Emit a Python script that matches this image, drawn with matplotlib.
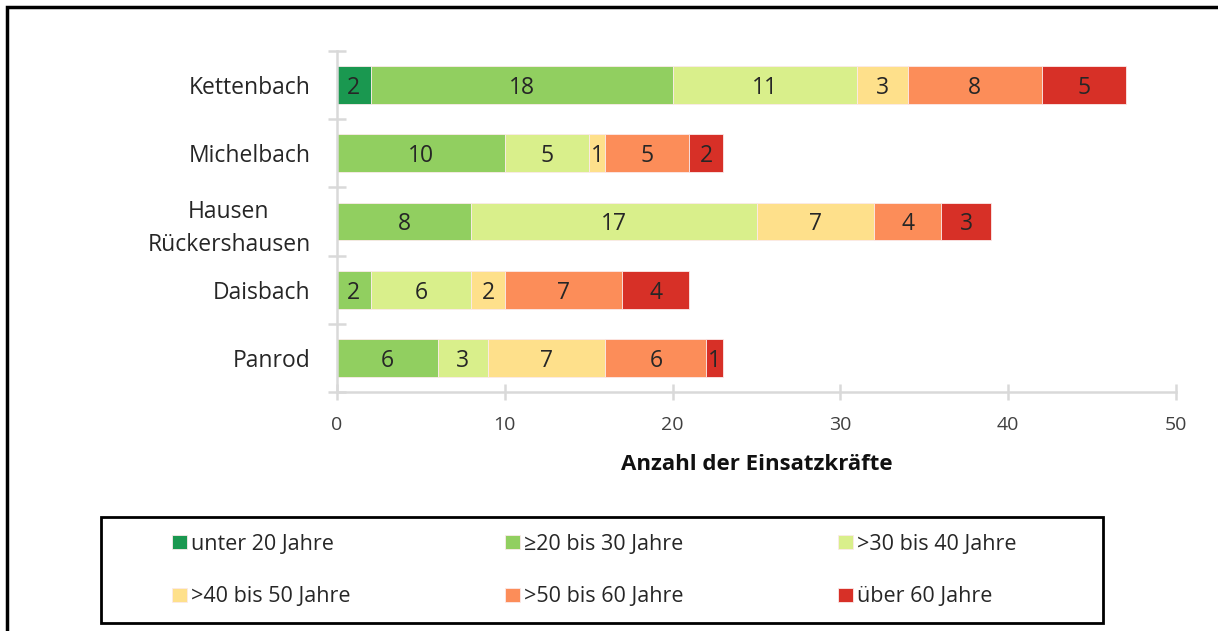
import matplotlib.pyplot as plt
from matplotlib.patches import Rectangle
import numpy as np

orte = ["Kettenbach", "Michelbach", "Hausen\nRückershausen", "Daisbach", "Panrod"]
gruppen = ["unter 20 Jahre", "≥20 bis 30 Jahre", ">30 bis 40 Jahre",
           ">40 bis 50 Jahre", ">50 bis 60 Jahre", "über 60 Jahre"]
farben = ["#1a9850", "#91cf60", "#d9ef8b", "#fee08b", "#fc8d59", "#d73027"]

unter20 = [2, 0, 0, 0, 0]
bis30 = [18, 10, 8, 2, 6]
bis40 = [11, 5, 17, 6, 3]
bis50 = [3, 1, 7, 2, 7]
bis60 = [8, 5, 4, 7, 6]
ueber60 = [5, 2, 3, 4, 1]

werte = [unter20, bis30, bis40, bis50, bis60, ueber60]

plt.rcParams['font.family'] = ['Open Sans', 'DejaVu Sans']

W, H = 1218, 631
fig = plt.figure(figsize=(W / 100, H / 100), dpi=100)
ax = fig.add_axes([337 / W, 1 - 392 / H, (1176 - 337) / W, (392 - 51) / H])

y = np.arange(len(orte))
links = np.zeros(len(orte))
balken = []
for name, vals, col in zip(gruppen, werte, farben):
    vals = np.array(vals)
    b = ax.barh(y, vals, left=links, height=0.556, color=col,
                edgecolor='#fbeaea', linewidth=0.6, label=name)
    balken.append(b)
    for yi, v, l in zip(y, vals, links):
        if v > 0:
            ax.text(l + v / 2, yi, str(v), ha='center', va='center_baseline',
                    fontsize=16.5, color='#262626')
    links += vals

ax.set_ylim(len(orte) - 0.5, -0.5)
ax.set_xlim(0, 50)
ax.set_yticks(y)
ax.set_yticklabels(orte, fontsize=16.5, color='#262626', linespacing=1.5)
for t in ax.get_yticklabels():
    t.set_multialignment('center')
ax.set_yticks(np.arange(-0.5, len(orte)), minor=True)
ax.tick_params(axis='y', which='major', length=0, pad=19)
ax.tick_params(axis='y', which='minor', length=13, direction='inout',
               color='#d9d9d9', width=1.8)
ax.set_xticks(range(0, 51, 10))
ax.tick_params(axis='x', length=11, direction='inout', color='#d9d9d9',
               width=1.8, labelsize=14, labelcolor='#404040', pad=12)

for s in ['top', 'right']:
    ax.spines[s].set_visible(False)
for s in ['left', 'bottom']:
    ax.spines[s].set_color('#d9d9d9')
    ax.spines[s].set_linewidth(1.8)

ax.set_xlabel('Anzahl der Einsatzkräfte', fontsize=16, fontweight='bold',
              labelpad=14, color='#111111')

# Legende: ein Eintrag pro Position, Rahmen separat
pos_x = [172, 505, 838]
pos_y = [544, 597]
for i, (b, name) in enumerate(zip(balken, gruppen)):
    px = pos_x[i % 3]
    py = pos_y[i // 3]
    fig.legend([b], [name], loc='center left',
               bbox_to_anchor=(px / W, 1 - py / H), frameon=False,
               fontsize=15.5, handlelength=0.68, handleheight=0.68,
               handletextpad=0.2, borderpad=0, borderaxespad=0,
               labelcolor='#262626')

fig.patches.append(Rectangle((101 / W, 1 - 623 / H), 1002 / W, 106 / H,
                             transform=fig.transFigure, fill=False,
                             edgecolor='black', linewidth=2))

# Rahmen um die Grafik
fig.patches.append(Rectangle((7 / W, -0.1), 1.2, 1 - 7 / H + 0.1,
                             transform=fig.transFigure, fill=False,
                             edgecolor='black', linewidth=2.5))

fig.savefig('out.png', dpi=100)
